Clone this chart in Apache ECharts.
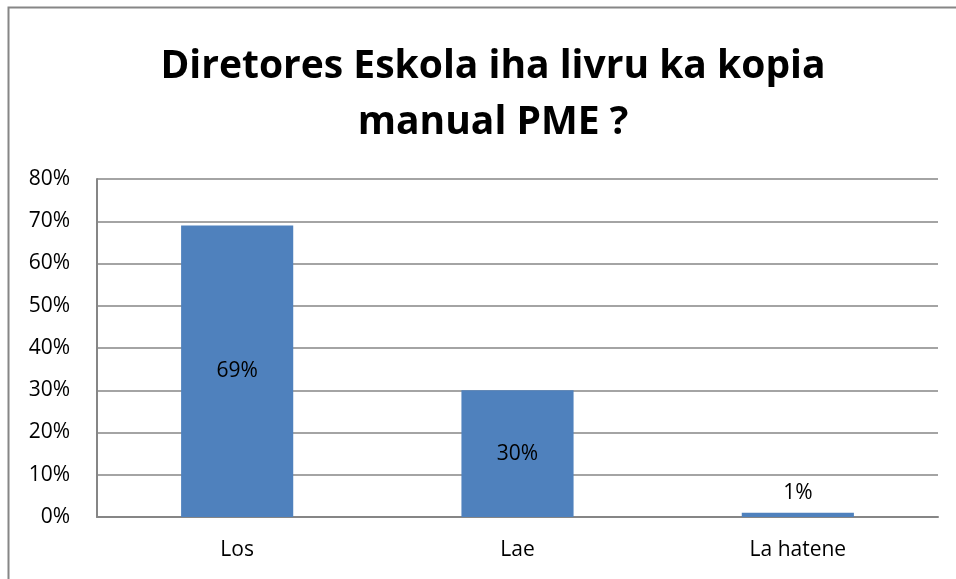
<!DOCTYPE html>
<html>
<head>
<meta charset="utf-8">
<script src="https://cdn.jsdelivr.net/npm/echarts@6/dist/echarts.min.js"></script>
<style>
  html, body { margin: 0; padding: 0; background: #fff; }
  #chart { width: 956px; height: 579px; }
</style>
</head>
<body>
<div id="chart"></div>
<script>
// data
var categories = ['Los', 'Lae', 'La hatene'];
var percents = [69, 30, 1];
var labelPlaces = ['inside', 'inside', 'top'];

var chart = echarts.init(document.getElementById('chart'));
var font = 'Open Sans';

var option = {
  animation: false,
  title: {
    text: 'Diretores Eskola iha livru ka kopia\nmanual PME ?',
    left: 488,
    top: 34,
    textAlign: 'center',
    textStyle: {
      fontFamily: font,
      fontWeight: 'bold',
      fontSize: 39,
      lineHeight: 56,
      color: '#000'
    }
  },
  graphic: [{
    type: 'rect',
    shape: { x: 8.5, y: 7.5, width: 1000, height: 700 },
    style: { fill: 'none', stroke: '#868686', lineWidth: 2 }
  }],
  grid: { left: 97, right: 18, top: 179, bottom: 62 },
  xAxis: {
    type: 'category',
    data: categories,
    axisLine: { lineStyle: { color: '#868686', width: 2 } },
    axisTick: { show: false },
    axisLabel: { fontFamily: font, fontSize: 21, color: '#000', margin: 23 }
  },
  yAxis: {
    type: 'value',
    min: 0,
    max: 80,
    interval: 10,
    axisLine: { show: true, lineStyle: { color: '#868686', width: 2 } },
    axisTick: { show: false },
    splitLine: { lineStyle: { color: '#868686', width: 1.5 } },
    axisLabel: { fontFamily: font, fontSize: 21, color: '#000', margin: 27, formatter: '{value}%' }
  },
  series: [{
    type: 'bar',
    barWidth: '40%',
    data: percents.map(function (v, i) {
      return { value: v, label: { position: labelPlaces[i], distance: 9 } };
    }),
    itemStyle: { color: '#4F81BD' },
    label: {
      show: true,
      formatter: '{c}%',
      fontFamily: font,
      fontSize: 21,
      color: '#000'
    }
  }]
};
chart.setOption(option);
</script>
</body>
</html>
